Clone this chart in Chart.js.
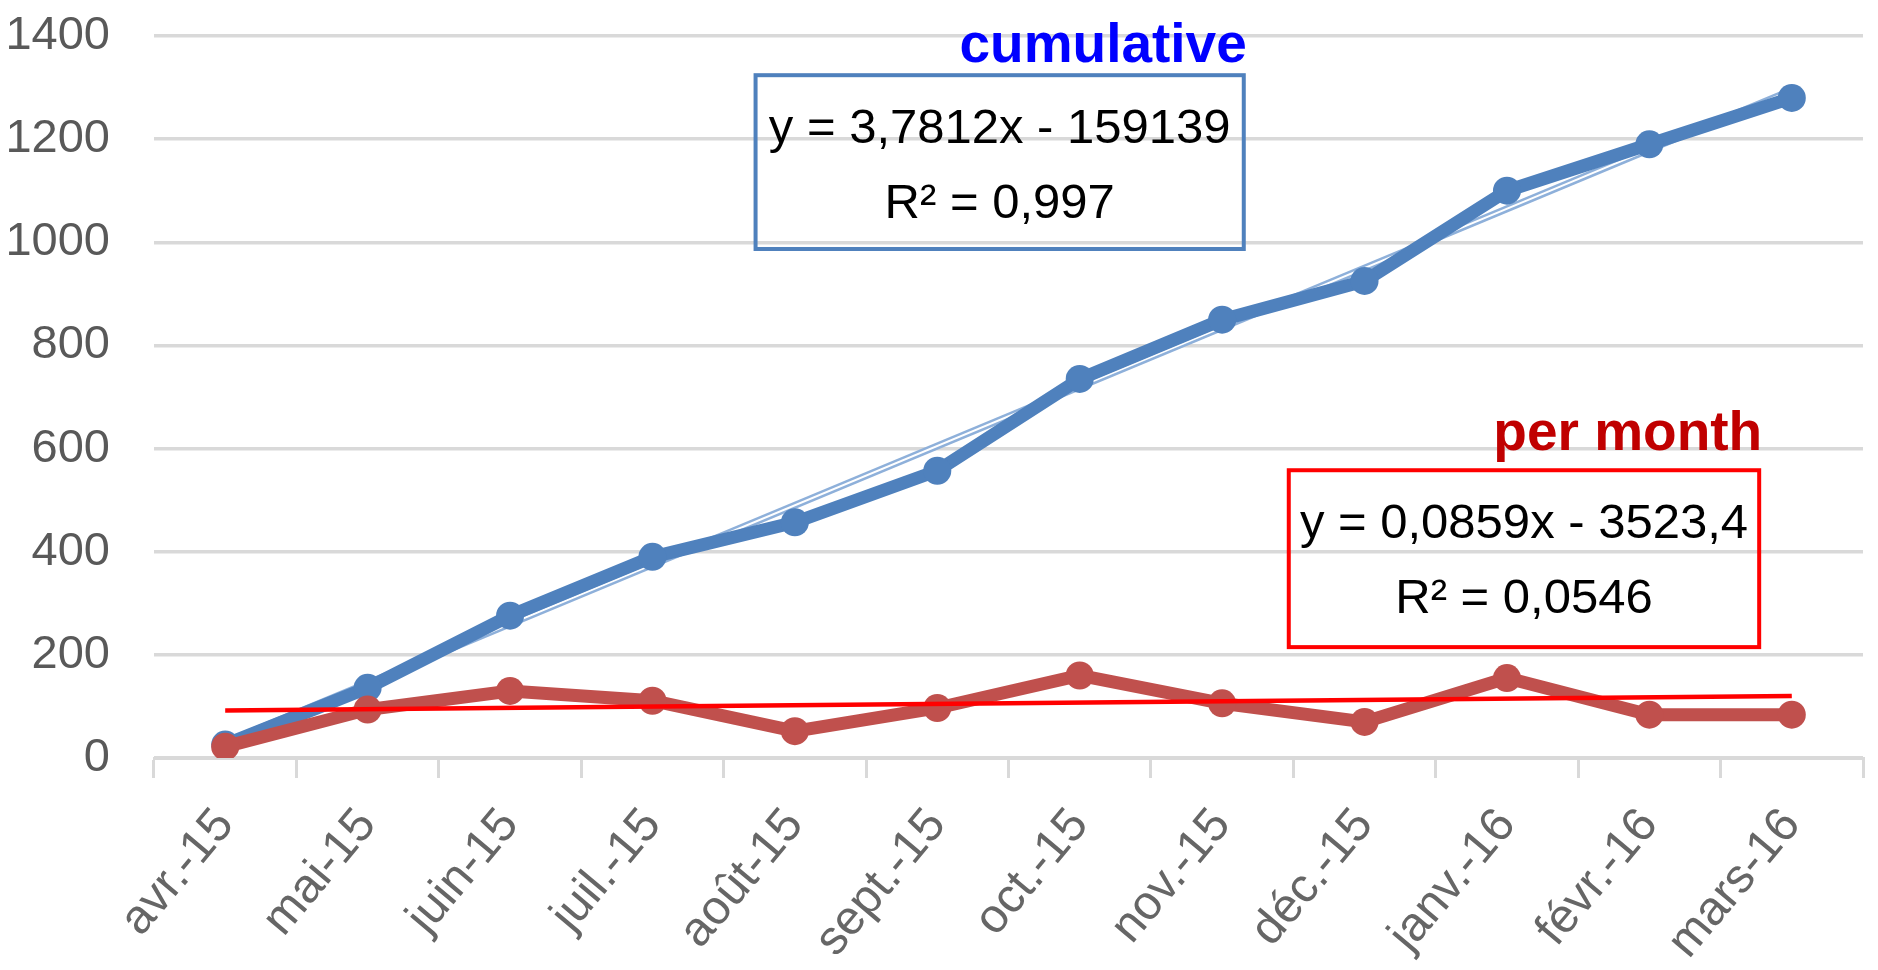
<!DOCTYPE html>
<html>
<head>
<meta charset="utf-8">
<script src="https://cdn.jsdelivr.net/npm/chart.js@4.4.1/dist/chart.umd.min.js"></script>
<style>
  html, body { margin: 0; padding: 0; background: #ffffff; }
  #wrap { width: 1878px; height: 970px; }
</style>
</head>
<body>
<div id="wrap"><canvas id="c" width="1878" height="970"></canvas></div>
<script>
// ---- data ----
const categories = ['avr.-15', 'mai-15', 'juin-15', 'juil.-15', 'août-15', 'sept.-15',
                    'oct.-15', 'nov.-15', 'déc.-15', 'janv.-16', 'févr.-16', 'mars-16'];
const cumulative = [26, 136, 276, 390, 457, 557, 735, 850, 925, 1100, 1190, 1280];
const perMonth   = [22, 94, 130, 111, 52, 97, 160, 106, 70, 155, 84, 84];
// linear trendlines (end points; gaps spanned)
const cumulativeTrend = [30, null, null, null, null, null, null, null, null, null, null, 1295];
const perMonthTrend   = [92, null, null, null, null, null, null, null, null, null, null, 120];
const yTicks = [0, 200, 400, 600, 800, 1000, 1200, 1400];
const cumulativeTitle = 'cumulative';
const cumulativeEq = ['y = 3,7812x - 159139', 'R² = 0,997'];
const perMonthTitle = 'per month';
const perMonthEq = ['y = 0,0859x - 3523,4', 'R² = 0,0546'];

const BLUE = '#4F81BD';
const RED = '#C0504D';
const TEXT_FONT = "'Liberation Sans', Arial, sans-serif";

// annotation boxes anchored in data space (category index, value)
const annotations = [
  { title: cumulativeTitle, titleColor: '#0000FF', lines: cumulativeEq, border: BLUE,
    x0: 3.724, x1: 7.152, yTop: 1324, yBottom: 987, titleGap: 13 },
  { title: perMonthTitle, titleColor: '#C00000', lines: perMonthEq, border: '#FF0000',
    x0: 7.468, x1: 10.771, yTop: 558, yBottom: 215, titleGap: 20 }
];

const annotationPlugin = {
  id: 'trendLabels',
  afterDatasetsDraw(chart) {
    const ctx = chart.ctx;
    const xs = chart.scales.x, ys = chart.scales.y;
    annotations.forEach(a => {
      const l = xs.getPixelForValue(a.x0), r = xs.getPixelForValue(a.x1);
      const t = ys.getPixelForValue(a.yTop), b = ys.getPixelForValue(a.yBottom);
      ctx.save();
      ctx.lineWidth = 4;
      ctx.strokeStyle = a.border;
      ctx.strokeRect(l, t, r - l, b - t);
      ctx.fillStyle = '#000000';
      ctx.font = "49px " + TEXT_FONT;
      ctx.textAlign = 'center';
      ctx.textBaseline = 'alphabetic';
      const cx = (l + r) / 2;
      ctx.fillText(a.lines[0], cx, t + 68);
      ctx.fillText(a.lines[1], cx, t + 143);
      ctx.font = "bold 55px " + TEXT_FONT;
      ctx.fillStyle = a.titleColor;
      ctx.textAlign = 'right';
      ctx.fillText(a.title, r + 3, t - a.titleGap);
      ctx.restore();
    });
  }
};

new Chart(document.getElementById('c'), {
  type: 'line',
  data: {
    labels: categories,
    datasets: [
      { label: 'per month trend', data: perMonthTrend, spanGaps: true, borderColor: '#FF0000',
        borderWidth: 4.5, pointRadius: 0, fill: false, order: 0 },
      { label: 'per month', data: perMonth, borderColor: RED, backgroundColor: RED,
        borderWidth: 13, pointRadius: 14, pointBorderWidth: 0, pointBackgroundColor: RED,
        tension: 0, fill: false, order: 1 },
      { label: 'cumulative', data: cumulative, borderColor: BLUE, backgroundColor: BLUE,
        borderWidth: 13, pointRadius: 14, pointBorderWidth: 0, pointBackgroundColor: BLUE,
        tension: 0, fill: false, order: 2 },
      { label: 'cumulative trend inner', data: cumulativeTrend, spanGaps: true, borderColor: '#ffffff',
        borderWidth: 2, pointRadius: 0, fill: false, order: 3 },
      { label: 'cumulative trend', data: cumulativeTrend, spanGaps: true, borderColor: '#8EB0DA',
        borderWidth: 7, pointRadius: 0, fill: false, order: 4 }
    ]
  },
  options: {
    responsive: false,
    animation: false,
    devicePixelRatio: 1,
    layout: { padding: { top: 36, right: 15, left: 0, bottom: 0 } },
    plugins: { legend: { display: false }, tooltip: { enabled: false } },
    scales: {
      x: {
        offset: true,
        grid: { offset: true, drawOnChartArea: false, color: '#D9D9D9', lineWidth: 3, tickLength: 20 },
        border: { color: '#D9D9D9', width: 3 },
        ticks: { minRotation: 50, maxRotation: 50, color: '#666666', padding: 20,
                 font: { family: TEXT_FONT, size: 48 } },
        afterFit: s => { s.height = 212; s.paddingLeft = 0; s.paddingRight = 0; }
      },
      y: {
        min: 0, max: 1400,
        afterBuildTicks: s => { s.ticks = yTicks.map(v => ({ value: v })); },
        ticks: { padding: 44, color: '#595959', font: { family: TEXT_FONT, size: 47 },
                 callback: v => String(v) },
        grid: { color: '#D9D9D9', lineWidth: 3.5, drawTicks: false },
        border: { display: false },
        afterFit: s => { s.width = 154; s.paddingTop = 0; s.paddingBottom = 0; }
      }
    }
  },
  plugins: [annotationPlugin]
});
</script>
</body>
</html>
